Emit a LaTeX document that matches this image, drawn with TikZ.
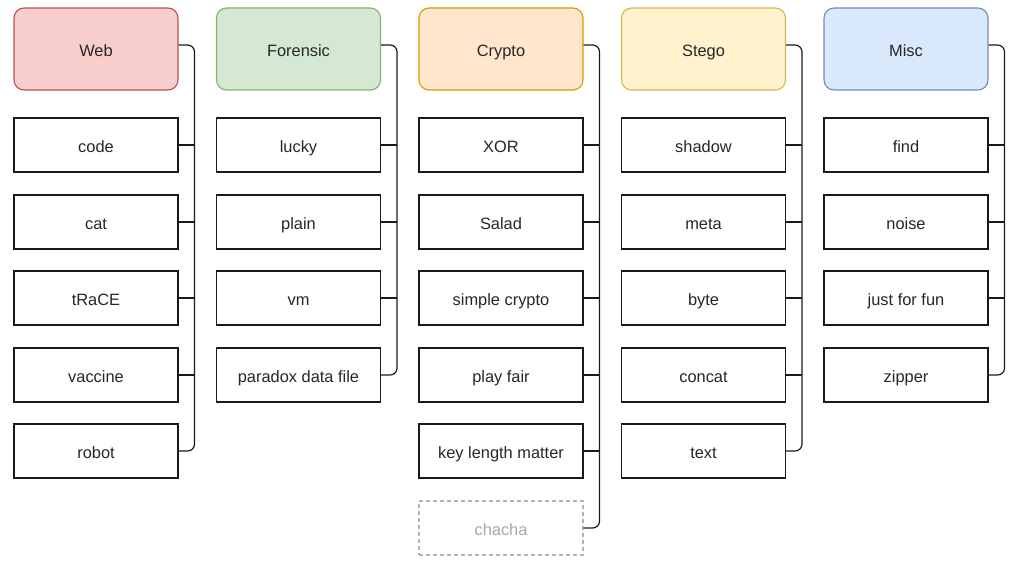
\documentclass[tikz,border=0pt]{standalone}
\usepackage{fontspec}
\setmainfont{Liberation Sans}
\definecolor{webF}{HTML}{F8CECC}\definecolor{webD}{HTML}{B85450}
\definecolor{forF}{HTML}{D5E8D4}\definecolor{forD}{HTML}{82B366}
\definecolor{cryF}{HTML}{FFE6CC}\definecolor{cryD}{HTML}{D79B00}
\definecolor{steF}{HTML}{FFF2CC}\definecolor{steD}{HTML}{D6B656}
\definecolor{misF}{HTML}{DAE8FC}\definecolor{misD}{HTML}{6C8EBF}
\definecolor{lineC}{HTML}{1A1A1A}
\begin{document}
\begin{tikzpicture}[x=1pt,y=-1pt,
  base/.style={minimum width=164pt,inner sep=0pt,font=\fontsize{16.4}{19}\selectfont,text=black!85,text height=18pt,text depth=3.5pt},
  head/.style={base,minimum height=82pt,rounded corners=10pt,line width=1.1pt},
  item/.style={base,minimum height=54pt,draw=lineC,line width=1.1pt},
  ghost/.style={base,minimum height=54pt,draw=black!30,dash pattern=on 4pt off 3pt,line width=1.1pt,text=black!35},
  conn/.style={draw=lineC,line width=1.2pt,rounded corners=7pt},
  stub/.style={draw=lineC,line width=1.2pt}]
\useasboundingbox (0,0) rectangle (1024,572);
\node[head,fill=webF,draw=webD] (web) at (96,49) {Web};
\node[head,fill=forF,draw=forD] (for) at (298.5,49) {Forensic};
\node[head,fill=cryF,draw=cryD] (cry) at (501,49) {Crypto};
\node[head,fill=steF,draw=steD] (ste) at (703.5,49) {Stego};
\node[head,fill=misF,draw=misD] (mis) at (906,49) {Misc};
% Web
\node[item] (w1) at (96,145) {code};
\node[item] (w2) at (96,222) {cat};
\node[item] (w3) at (96,298) {tRaCE};
\node[item] (w4) at (96,375) {vaccine};
\node[item] (w5) at (96,451) {robot};
% Forensic
\node[item] (f1) at (298.5,145) {lucky};
\node[item] (f2) at (298.5,222) {plain};
\node[item] (f3) at (298.5,298) {vm};
\node[item] (f4) at (298.5,375) {paradox data file};
% Crypto
\node[item] (c1) at (501,145) {XOR};
\node[item] (c2) at (501,222) {Salad};
\node[item] (c3) at (501,298) {simple crypto};
\node[item] (c4) at (501,375) {play fair};
\node[item] (c5) at (501,451) {key length matter};
\node[ghost] (c6) at (501,528) {chacha};
% Stego
\node[item] (s1) at (703.5,145) {shadow};
\node[item] (s2) at (703.5,222) {meta};
\node[item] (s3) at (703.5,298) {byte};
\node[item] (s4) at (703.5,375) {concat};
\node[item] (s5) at (703.5,451) {text};
% Misc
\node[item] (m1) at (906,145) {find};
\node[item] (m2) at (906,222) {noise};
\node[item] (m3) at (906,298) {just for fun};
\node[item] (m4) at (906,375) {zipper};
% trunk coordinates
\foreach \h in {web,for,cry,ste,mis}{
  \coordinate (\h-t) at ([xshift=16pt,yshift=4pt]\h.east);
}
% connectors: last child carries the rounded trunk, others join it
\foreach \h/\last/\kids in {web/w5/{w1,w2,w3,w4},for/f4/{f1,f2,f3},cry/c6/{c1,c2,c3,c4,c5},ste/s5/{s1,s2,s3,s4},mis/m4/{m1,m2,m3}}{
  \path[conn] ([yshift=4pt]\h.east) -- (\h-t) |- (\last.east);
  \foreach \k in \kids {
    \path[stub] (\k.east) -- (\k.east -| \h-t);
  }
}
\end{tikzpicture}
\end{document}
